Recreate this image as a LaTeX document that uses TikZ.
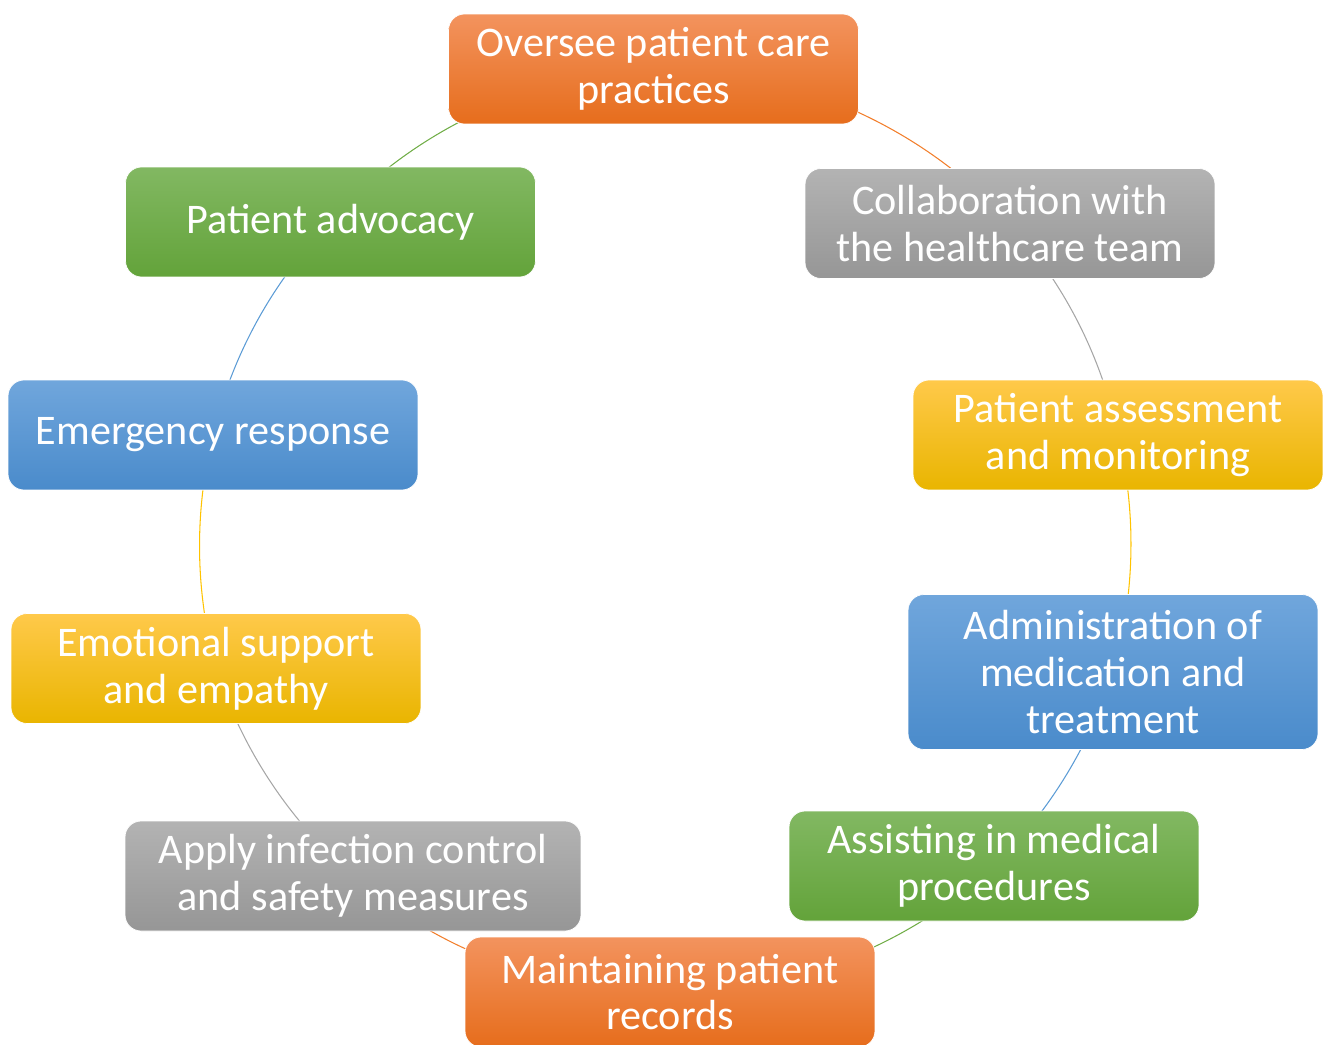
\documentclass[tikz,border=0pt]{standalone}
\usepackage{fontspec}
\setmainfont{Carlito}
\usetikzlibrary{backgrounds}

\definecolor{orangeT}{HTML}{F3935E}
\definecolor{orangeM}{HTML}{F27E2B}
\definecolor{orangeB}{HTML}{E66D1C}
\definecolor{grayT}{HTML}{B3B3B3}
\definecolor{grayM}{HTML}{A6A6A6}
\definecolor{grayB}{HTML}{969696}
\definecolor{yellowT}{HTML}{FFC94A}
\definecolor{yellowM}{HTML}{FFC300}
\definecolor{yellowB}{HTML}{E9B500}
\definecolor{blueT}{HTML}{70A6DC}
\definecolor{blueM}{HTML}{5B9BD5}
\definecolor{blueB}{HTML}{4A8BCB}
\definecolor{greenT}{HTML}{82B862}
\definecolor{greenM}{HTML}{70AD47}
\definecolor{greenB}{HTML}{63A33A}

\begin{document}
\begin{tikzpicture}[x=0.02cm,y=0.02cm,
    stage/.style={rounded corners=0.32cm, draw=white, line width=0.4pt, minimum width=8.2cm, minimum height=2.2cm, inner sep=0pt, align=center, text=white, font=\fontsize{24}{26.5}\selectfont},
    orangestage/.style={stage, top color=orangeT, middle color=orangeM, bottom color=orangeB},
    graystage/.style={stage, top color=grayT, middle color=grayM, bottom color=grayB},
    yellowstage/.style={stage, top color=yellowT, middle color=yellowM, bottom color=yellowB},
    bluestage/.style={stage, top color=blueT, middle color=blueM, bottom color=blueB},
    greenstage/.style={stage, top color=greenT, middle color=greenM, bottom color=greenB},
    link/.style={line width=0.6pt, looseness=0.87, bend left=#1}]
        \useasboundingbox (0,0) rectangle (1327,-1044);
        \node[orangestage] (s1) at (653.5,-69) {Oversee patient care\\practices};
        \node[graystage] (s2) at (1010,-223.5) {Collaboration with\\the healthcare team};
        \node[yellowstage] (s3) at (1118,-435) {Patient assessment\\and monitoring};
        \node[bluestage, minimum height=3.1cm] (s4) at (1113,-672) {Administration of\\medication and\\treatment};
        \node[greenstage] (s5) at (994,-866) {Assisting in medical\\procedures};
        \node[orangestage] (s6) at (670,-992) {Maintaining patient\\records};
        \node[graystage, minimum width=9.12cm] (s7) at (353,-876) {Apply infection control\\and safety measures};
        \node[yellowstage] (s8) at (216,-668.5) {Emotional support\\and empathy};
        \node[bluestage] (s9) at (213,-435) {Emergency response};
        \node[greenstage] (s10) at (330.5,-222) {Patient advocacy};
        \begin{scope}[on background layer]
          \draw[orangeM, link=24.9] (s1.center) to (s2.center);
          \draw[grayM, link=15] (s2.center) to (s3.center);
          \draw[yellowM, link=14.7] (s3.center) to (s4.center);
          \draw[blueM, link=14] (s4.center) to (s5.center);
          \draw[greenM, link=21.9] (s5.center) to (s6.center);
          \draw[orangeM, link=21.3] (s6.center) to (s7.center);
          \draw[grayM, link=15.5] (s7.center) to (s8.center);
          \draw[yellowM, link=14.5] (s8.center) to (s9.center);
          \draw[blueM, link=15.4] (s9.center) to (s10.center);
          \draw[greenM, link=23] (s10.center) to (s1.center);
        \end{scope}
      \end{tikzpicture}
\end{document}
